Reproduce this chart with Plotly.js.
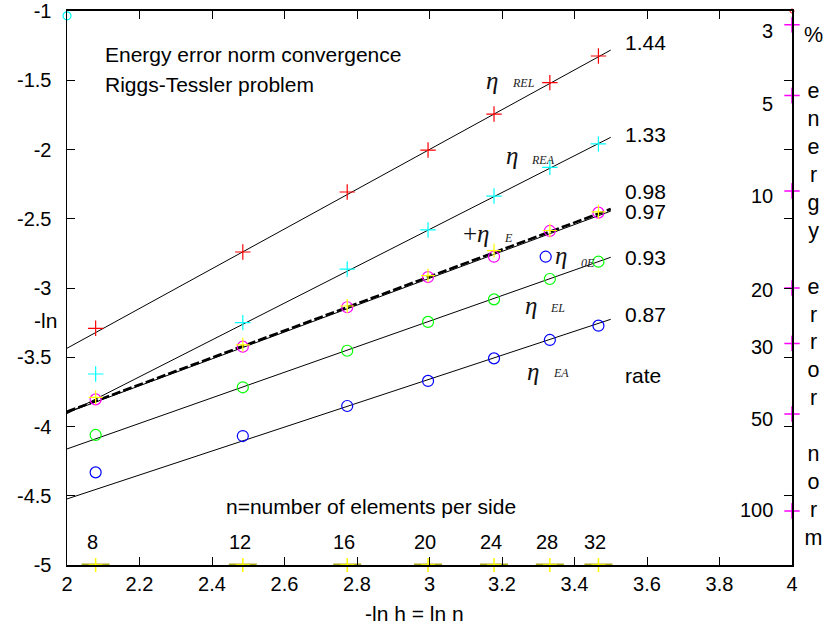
<!DOCTYPE html>
<html>
<head>
<meta charset="utf-8">
<script src="https://cdn.plot.ly/plotly-3.0.1.min.js"></script>
<style>html,body{margin:0;padding:0;background:#fff;}#chart{width:827px;height:631px;}</style>
</head>
<body>
<div id="chart"></div>
<script>
// ---- data ----
const nValues = [8, 12, 16, 20, 24, 28, 32];
const lnN = [2.079, 2.485, 2.773, 2.996, 3.178, 3.332, 3.466];
const etaREL = [-3.291, -2.740, -2.307, -2.004, -1.744, -1.517, -1.325];
const etaREA = [-3.621, -3.250, -2.863, -2.581, -2.336, -2.129, -1.960];
const etaEcircle = [-3.804, -3.424, -3.139, -2.921, -2.774, -2.588, -2.456];
const etaEplus = [-3.790, -3.410, -3.130, -2.910, -2.730, -2.585, -2.450];
const etaEL = [-4.061, -3.717, -3.453, -3.245, -3.082, -2.935, -2.810];
const etaEA = [-4.331, -4.069, -3.852, -3.671, -3.508, -3.375, -3.272];
const bottomMarks = [-5, -5, -5, -5, -5, -5, -5];

const fitX = [2, 3.5];
const fitREL = [-3.435, -1.282];
const fitREA = [-3.907, -1.912];
const fitE98 = [-3.893, -2.430];
const fitE97 = [-3.900, -2.445];
const fitEL = [-4.162, -2.778];
const fitEA = [-4.523, -3.226];
const rates = ['1.44', '1.33', '0.98', '0.97', '0.93', '0.87'];

const pctLabels = ['3', '5', '10', '20', '30', '50', '100'];
const pctMarks = [-1.10, -1.61, -2.30, -3.00, -3.40, -3.91, -4.61];
const pctMarkX = [4, 4, 4, 4, 4, 4, 4];
const pctLabelPos = [-1.144, -1.671, -2.336, -3.014, -3.426, -3.946, -4.603];

const xTickVals = [2, 2.2, 2.4, 2.6, 2.8, 3, 3.2, 3.4, 3.6, 3.8, 4];
const xTickText = ['2', '2.2', '2.4', '2.6', '2.8', '3', '3.2', '3.4', '3.6', '3.8', '4'];
const yTickVals = [-1, -1.5, -2, -2.5, -3, -3.5, -4, -4.5, -5];
const yTickText = ['-1', '-1.5', '-2', '-2.5', '-3', '-3.5', '-4', '-4.5', '-5'];

const keyCircleX = [3.3205], keyCircleY = [-2.774];
const cornerCyanX = [2.0], cornerCyanY = [-1.035];
const cornerRedX = [4.0], cornerRedY = [-1.0];

// ---- traces ----
function mk(symbol, size, color, width) {
  return {symbol: symbol, size: size, color: color, line: {color: color, width: width}};
}
const lineStyle = {color: '#000', width: 1};
const traces = [
  {x: fitX, y: fitREL, mode: 'lines', line: lineStyle},
  {x: fitX, y: fitREA, mode: 'lines', line: lineStyle},
  {x: fitX, y: fitE97, mode: 'lines', line: lineStyle},
  {x: fitX, y: fitE98, mode: 'lines', line: {color: '#000', width: 2.6, dash: '9px,3px'}},
  {x: fitX, y: fitEL, mode: 'lines', line: lineStyle},
  {x: fitX, y: fitEA, mode: 'lines', line: lineStyle},
  {x: lnN, y: etaREL, mode: 'markers', marker: mk('cross-thin-open', 11, '#ff0000', 1.2)},
  {x: lnN, y: etaREA, mode: 'markers', marker: mk('cross-thin-open', 11, '#00ffff', 1.2)},
  {x: lnN, y: etaEcircle, mode: 'markers', marker: mk('circle-open', 11, '#ff00ff', 1.2)},
  {x: lnN, y: etaEplus, mode: 'markers', marker: mk('cross-thin-open', 10, '#ffff00', 1.2)},
  {x: lnN, y: etaEL, mode: 'markers', marker: mk('circle-open', 11, '#00ff00', 1.2)},
  {x: lnN, y: etaEA, mode: 'markers', marker: mk('circle-open', 11, '#0000ff', 1.2)},
  {x: keyCircleX, y: keyCircleY, mode: 'markers', marker: mk('circle-open', 11, '#0000ff', 1.2)},
  {x: lnN, y: bottomMarks, mode: 'markers', cliponaxis: false, marker: mk('line-ew-open', 20, 'rgba(160,160,0,0.9)', 3)},
  {x: lnN, y: bottomMarks, mode: 'markers', cliponaxis: false, marker: mk('cross-thin-open', 10, '#ffff00', 1.5)},
  {x: cornerCyanX, y: cornerCyanY, mode: 'markers', cliponaxis: false, marker: mk('circle-open', 8, '#00ffff', 1.2)},
  {x: cornerRedX, y: cornerRedY, mode: 'markers', cliponaxis: false, marker: mk('circle-open', 4, '#ff0000', 1)},
  {x: pctMarkX, y: pctMarks, mode: 'markers', cliponaxis: false, marker: mk('cross-thin-open', 11, '#ff00ff', 1.5)}
];

// ---- annotations ----
const sans = 'Liberation Sans, Arial, sans-serif';
const serif = 'Liberation Serif, Times New Roman, serif';
const ann = [];
function txt(x, y, text, size, opts) {
  ann.push(Object.assign({x: x, y: y, xref: 'x', yref: 'y', text: text, showarrow: false,
    font: {family: sans, size: size, color: '#000'}, xanchor: 'left', yanchor: 'middle'}, opts || {}));
}
txt(2.0993, -1.314, 'Energy error norm convergence', 21);
txt(2.0993, -1.531, 'Riggs-Tessler problem', 21);

const rateY = [-1.224, -1.895, -2.300, -2.451, -2.783, -3.191];
rates.forEach((r, i) => txt(3.534, rateY[i], r, 21));
txt(3.534, -3.632, 'rate', 21);

function eta(x, y, xs, ys, sub, prefix) {
  txt(x, y, (prefix || '') + '<i>η</i>', 25, {xanchor: 'center', font: {family: serif, size: 25, color: '#111'}});
  txt(xs, ys, '<i>' + sub + '</i>', 12, {xanchor: 'center', font: {family: serif, size: 12, color: '#222'}});
}
eta(3.172, -1.505, 3.258, -1.520, 'REL');
eta(3.228, -2.040, 3.313, -2.076, 'REA');
eta(3.131, -2.603, 3.217, -2.639, 'E', '+');
eta(3.363, -2.762, 3.437, -2.820, '0E');
eta(3.280, -3.123, 3.354, -3.144, 'EL');
eta(3.286, -3.606, 3.363, -3.614, 'EA');

txt(2.433, -4.581, 'n=number of elements per side', 21);
nValues.forEach((n, i) => txt(lnN[i], -4.834, String(n), 20, {xanchor: 'center', xshift: -3}));

// right-hand percentage scale labels
pctLabels.forEach((p, i) => txt(0.9766, pctLabelPos[i], p, 20, {xref: 'paper', xanchor: 'right'}));

txt(0.4793, -0.0875, '-ln h = ln n', 21, {xref: 'paper', yref: 'paper', xanchor: 'center'});
txt(-0.0303, 0.4422, '-ln', 21, {xref: 'paper', yref: 'paper', xanchor: 'center'});
txt(1.029, 0.5036, '%<br><br>e<br>n<br>e<br>r<br>g<br>y<br><br>e<br>r<br>r<br>o<br>r<br><br>n<br>o<br>r<br>m', 21.5,
  {xref: 'paper', yref: 'paper', xanchor: 'center'});

// ---- layout ----
const layout = {
  width: 827, height: 631,
  margin: {l: 67, r: 35, t: 11, b: 66, pad: 0},
  paper_bgcolor: '#fff', plot_bgcolor: '#fff',
  showlegend: false,
  font: {family: sans, size: 20, color: '#000'},
  xaxis: {range: [2, 4], tickmode: 'array', tickvals: xTickVals, ticktext: xTickText,
    ticks: 'inside', ticklen: 8, tickwidth: 1, tickcolor: '#000', showline: true, linewidth: 2, linecolor: '#000',
    mirror: 'ticks', showgrid: false, zeroline: false, tickfont: {size: 20}},
  yaxis: {range: [-5, -1], tickmode: 'array', tickvals: yTickVals, ticktext: yTickText,
    ticks: 'inside', ticklen: 8, tickwidth: 1, tickcolor: '#000', showline: true, linewidth: 1.5, linecolor: '#000',
    mirror: 'ticks', showgrid: false, zeroline: false, tickfont: {size: 20}, ticklabelstandoff: 10},
  annotations: ann
};

Plotly.newPlot('chart', traces, layout, {staticPlot: true});
</script>
</body>
</html>
